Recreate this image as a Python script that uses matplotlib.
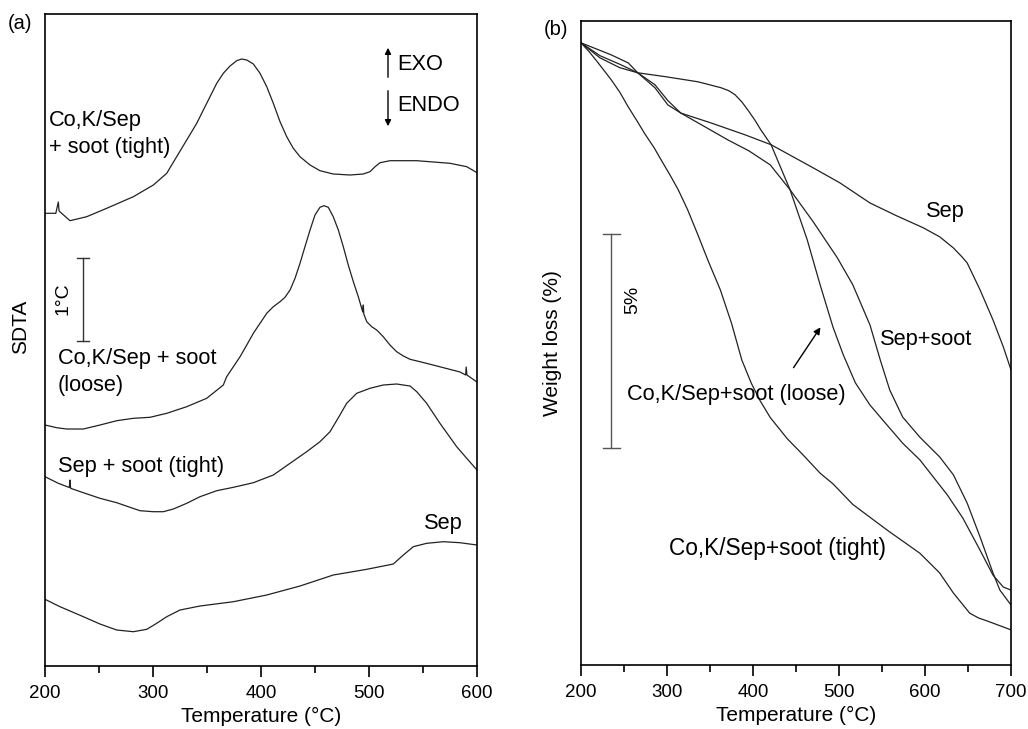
import numpy as np
import matplotlib
matplotlib.use('Agg')
import matplotlib.pyplot as plt
from matplotlib.ticker import MultipleLocator

plt.rcParams['font.family'] = ['Liberation Sans', 'DejaVu Sans']
plt.rcParams['font.size'] = 15.7

# ----------------------- (a) SDTA curves (a.u., 1 degC = 83 a.u.) -----------------------
t_cok_tight = [200, 210, 212.3, 213, 215.4, 223.1, 238.6, 257.1, 281.8, 300.3, 312.7, 321.9,
               331.2, 340.5, 346.6, 352.8, 359.0, 365.1, 371.3, 377.5, 382.1, 386.8, 392.9,
               399.1, 405.3, 411.4, 417.6, 423.8, 429.9, 436.1, 445.4, 454.6, 466.9, 482.4,
               494.7, 500.9, 505.6, 510.2, 519.4, 544.2, 575, 590.5, 600]
h_cok_tight = [452.7, 452.7, 464, 455, 452.7, 445.3, 449.3, 457.7, 469.3, 481, 492.7, 509.3,
               526, 542.7, 556, 569.3, 582.7, 592.7, 600, 605.3, 607, 606, 602,
               592.7, 579.3, 562.7, 544.3, 529.3, 517.7, 509.3, 501, 495.3, 492, 491,
               492, 494.3, 499.3, 503.3, 505.3, 505.3, 502.7, 499.3, 493.3]

t_cok_loose = [200, 210.8, 220, 235.5, 250.9, 266.4, 281.8, 297.2, 312.7, 331.2, 349.7, 365.1,
               368.2, 374.4, 380.6, 386.8, 392.9, 399.1, 405.3, 411.4, 417.6, 422.2, 426.9,
               431.5, 436.1, 440.7, 445.4, 450, 454.6, 458.3, 462.3, 466.9, 471.6, 476.2,
               480.8, 485.5, 490.1, 494.2, 494.7, 495.2, 497.9, 502.5, 507.1, 513.2, 519.4,
               525.6, 531.8, 538, 547.2, 559.3, 584.3, 589.5, 590, 590.7, 600]
h_cok_loose = [241, 238.3, 237, 237, 241, 245.3, 247.7, 248.7, 252.7, 259.3, 267.7, 281,
               289.3, 299.3, 309.3, 321, 332.7, 342.7, 352.7, 359.3, 364.3, 368.7, 376,
               387.7, 402.7, 419.3, 436, 451, 458.7, 460.3, 458.7, 449.3, 436, 419.3,
               401, 384.3, 369.3, 354, 361, 352, 344.3, 339.3, 336, 329.3, 321,
               314.3, 310, 306.7, 304.3, 301, 294, 291, 299, 291, 284]

t_sep_tight = [200, 212.3, 222.5, 223.1, 223.7, 235.5, 250.9, 266.4, 277.1, 288, 300.3, 309.5,
               318.8, 331.2, 343.5, 359, 374.4, 392.9, 411.4, 426.9, 442.3, 454.6, 463.9,
               473.1, 479.3, 488.6, 500.9, 513.2, 525.6, 538, 544.2, 553.4, 565.7, 581.2,
               590.5, 600]
h_sep_tight = [189.3, 182.7, 178.5, 186, 177.7, 173.3, 167.7, 163.3, 159.3, 155.3, 154.3, 154.3,
               157, 162.7, 169.3, 175.3, 178.7, 183.3, 191, 202.7, 214.3, 224.3, 234.3,
               251, 262.7, 272.7, 277.7, 281, 282, 280, 274.3, 262.7, 242.7, 219.3,
               207.7, 196]

t_sep = [200, 213.9, 235.5, 250.9, 266.4, 281.8, 294.2, 303.4, 312.7, 325, 343.5, 374.4, 405.3,
         436.1, 466.9, 497.9, 522.5, 531.8, 541, 553.4, 568.8, 584.3, 600]
h_sep = [66.7, 59.3, 49.3, 42, 36, 34.3, 36.7, 42.7, 49.3, 56, 60, 64.3, 71,
         80, 91, 96.7, 102, 111, 119.3, 122.7, 124.3, 123.3, 121]

# ----------------------- (b) TG curves, weight loss (%) -----------------------
tg_sep_t = [200, 222, 245, 266, 286, 301, 316, 351, 391, 421, 470, 501, 536, 567, 598, 617,
            633, 643, 649, 664, 679, 691, 700]
tg_sep_w = [0, 0.35, 0.58, 0.70, 1.05, 1.45, 1.64, 1.87, 2.15, 2.38, 2.92, 3.27, 3.74, 4.04,
            4.32, 4.53, 4.79, 5.0, 5.14, 5.77, 6.47, 7.10, 7.64]

tg_sepsoot_t = [200, 222, 245, 266, 286, 301, 316, 344, 371, 395, 420, 443, 470, 498, 516,
                536, 548, 559, 574, 594, 617, 633, 649, 664, 679, 687, 700]
tg_sepsoot_w = [0, 0.30, 0.50, 0.70, 0.98, 1.35, 1.64, 1.96, 2.27, 2.52, 2.85, 3.43, 4.18,
                5.02, 5.65, 6.59, 7.41, 8.11, 8.74, 9.21, 9.67, 10.09, 10.75, 11.54, 12.38,
                12.78, 13.13]

tg_loose_t = [200, 235, 255, 266, 298, 336, 363, 372, 379, 387, 394, 402, 409, 421, 443, 463,
              478, 493, 505, 519, 536, 556, 574, 594, 626, 644, 664, 679, 691, 700]
tg_loose_w = [0, 0.28, 0.47, 0.70, 0.79, 0.91, 1.05, 1.12, 1.21, 1.38, 1.57, 1.80, 2.03, 2.38,
              3.43, 4.60, 5.65, 6.64, 7.29, 7.94, 8.46, 8.93, 9.35, 9.74, 10.56, 11.10, 11.85,
              12.43, 12.71, 12.78]

tg_tight_t = [200, 210, 220, 235, 245, 255, 265, 274, 285, 293, 303, 313, 324, 335, 348, 362,
              375, 387, 398, 408, 420, 440, 458, 478, 493, 516, 556, 594, 617, 633, 652, 662,
              672, 700]
tg_tight_w = [0, 0.22, 0.47, 0.86, 1.15, 1.50, 1.82, 2.12, 2.45, 2.73, 3.07, 3.43, 3.90, 4.44,
              5.10, 5.77, 6.55, 7.41, 7.95, 8.35, 8.75, 9.25, 9.62, 10.05, 10.30, 10.78, 11.38,
              11.92, 12.38, 12.85, 13.32, 13.43, 13.50, 13.71]

lw = 0.9
col = '#222222'
tick_fs = 13.5
lab_fs = 15

fig = plt.figure(figsize=(10.28, 7.29), dpi=100)
ax1 = fig.add_axes([0.0438, 0.0864, 0.4202, 0.8944])
ax2 = fig.add_axes([0.5652, 0.0878, 0.4183, 0.8834])

for ax in (ax1, ax2):
    for s in ax.spines.values():
        s.set_linewidth(1.2)
    ax.set_yticks([])
    ax.xaxis.set_minor_locator(MultipleLocator(50))
    ax.xaxis.set_major_locator(MultipleLocator(100))
    ax.tick_params(axis='x', which='major', direction='out', length=8, width=1.2, pad=6,
                   labelsize=tick_fs, top=False)
    ax.tick_params(axis='x', which='minor', direction='out', length=5, width=1.2, top=False)
    ax.set_xlabel('Temperature (°C)', fontsize=lab_fs, labelpad=3)

# ---- panel (a)
ax1.plot(t_cok_tight, h_cok_tight, color=col, lw=lw)
ax1.plot(t_cok_loose, h_cok_loose, color=col, lw=lw)
ax1.plot(t_sep_tight, h_sep_tight, color=col, lw=lw)
ax1.plot(t_sep, h_sep, color=col, lw=lw)
ax1.set_xlim(200, 600)
ax1.set_ylim(0, 652)
ax1.set_ylabel('SDTA', fontsize=lab_fs)
ax1.yaxis.set_label_coords(-0.035, 0.52)

ax1.text(203.7, 532, 'Co,K/Sep\n+ soot (tight)', ha='left', va='center', linespacing=1.32)
ax1.text(212, 294, 'Co,K/Sep + soot\n(loose)', ha='left', va='center', linespacing=1.32)
ax1.text(212, 200, 'Sep + soot (tight)', ha='left', va='center')
ax1.text(551, 143, 'Sep', ha='left', va='center')

# 1 degC scale bar
ax1.plot([235.2, 235.2], [325, 408], color='#333333', lw=1)
ax1.plot([229.6, 240.8], [408, 408], color='#333333', lw=1)
ax1.plot([229.6, 240.8], [325, 325], color='#333333', lw=1)
ax1.text(216.7, 367, '1°C', rotation=90, ha='center', va='center', fontsize=14)

# EXO / ENDO arrows
ax1.annotate('', xy=(517.6, 621), xytext=(517.6, 586),
             arrowprops=dict(arrowstyle='-|>', color='black', lw=1, mutation_scale=9))
ax1.annotate('', xy=(517.6, 537), xytext=(517.6, 578),
             arrowprops=dict(arrowstyle='-|>', color='black', lw=1, mutation_scale=9))
ax1.text(526, 601, 'EXO', ha='left', va='center')
ax1.text(526, 560, 'ENDO', ha='left', va='center')

# ---- panel (b)
ax2.plot(tg_sep_t, tg_sep_w, color=col, lw=lw)
ax2.plot(tg_sepsoot_t, tg_sepsoot_w, color=col, lw=lw)
ax2.plot(tg_loose_t, tg_loose_w, color=col, lw=lw)
ax2.plot(tg_tight_t, tg_tight_w, color=col, lw=lw)
ax2.set_xlim(200, 700)
ax2.set_ylim(14.53, -0.51)
ax2.set_ylabel('Weight loss (%)', fontsize=lab_fs)
ax2.yaxis.set_label_coords(-0.044, 0.5)

ax2.text(624, 3.95, 'Sep', ha='center', va='center')
ax2.text(601, 6.94, 'Sep+soot', ha='center', va='center')
ax2.text(253.5, 8.22, 'Co,K/Sep+soot (loose)', ha='left', va='center')
ax2.text(429, 11.82, 'Co,K/Sep+soot (tight)', ha='center', va='center', fontsize=16.3)
ax2.annotate('', xy=(480.2, 6.59), xytext=(445.3, 7.64),
             arrowprops=dict(arrowstyle='-|>', color='black', lw=1, mutation_scale=10))

# 5 % scale bar
ax2.plot([234.9, 234.9], [4.46, 9.46], color='#555555', lw=1)
ax2.plot([225.6, 245.3], [4.46, 4.46], color='#555555', lw=1)
ax2.plot([225.6, 245.3], [9.46, 9.46], color='#555555', lw=1)
ax2.text(260.5, 6.0, '5%', rotation=90, ha='center', va='center', fontsize=14)

fig.text(0.0195, 0.968, '(a)', ha='center', va='center', fontsize=14.5)
fig.text(0.541, 0.960, '(b)', ha='center', va='center', fontsize=14.5)

plt.savefig('out.png', dpi=100)
